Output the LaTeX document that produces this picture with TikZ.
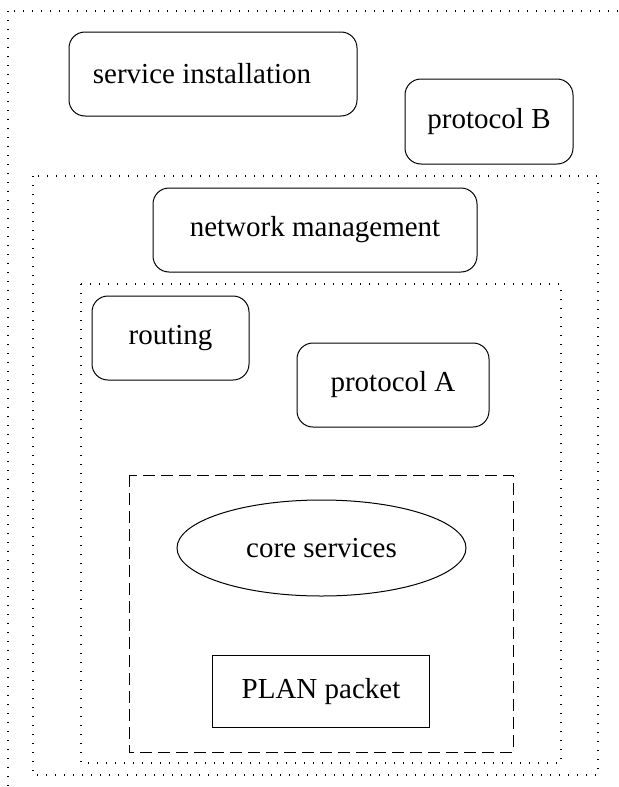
\documentclass[tikz,border=0pt]{standalone}
\usepackage{fontspec}
\setmainfont{Liberation Serif}
\usetikzlibrary{shapes.geometric}
\begin{document}
\begin{tikzpicture}
[x=0.5pt,y=-0.5pt,line width=0.5pt,font=\fontsize{14.5}{16}\selectfont,
 modbox/.style={draw,rounded corners=8pt,inner sep=0pt},
 coreell/.style={draw,ellipse,inner sep=0pt},
 pktbox/.style={draw,inner sep=0pt},
 layerbox/.style={line width=0.6pt,dash pattern=on 0.6pt off 3.9pt},
 corebox/.style={dash pattern=on 6pt off 3pt}]
\useasboundingbox (0,0) rectangle (618,787);
\clip (0,0) rectangle (618,787);
% layers
\draw[layerbox] (8,11) rectangle (640,800);
\draw[layerbox] (33,176) rectangle (598,775);
\draw[layerbox] (81,284) rectangle (561,763);
\draw[corebox] (129,475) rectangle (513,752);
% modules
\node (svc) at (213,74) [modbox,minimum width=144pt,minimum height=42pt] {service installation\hspace*{11pt}};
\node (protB) at (489,121.5) [modbox,minimum width=84pt,minimum height=42.5pt] {protocol B};
\node (netmgmt) at (315,230) [modbox,minimum width=162pt,minimum height=42pt] {network management};
\node (routing) at (170.5,338) [modbox,minimum width=78.5pt,minimum height=42pt] {routing};
\node (protA) at (393,385) [modbox,minimum width=96pt,minimum height=42pt] {protocol A};
\node (core) at (321.5,548) [coreell,minimum width=144.5pt,minimum height=48pt] {core services};
\node (plan) at (321,691.5) [pktbox,minimum width=108.5pt,minimum height=36pt] {PLAN packet};

\end{tikzpicture}
\end{document}
